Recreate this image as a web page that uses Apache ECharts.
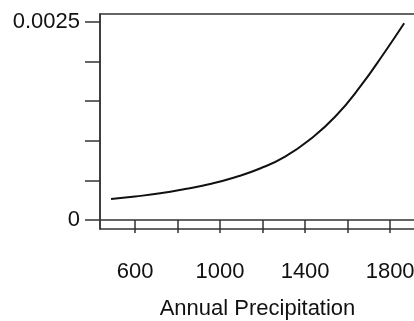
<!DOCTYPE html>
<html>
<head>
<meta charset="utf-8">
<script src="https://cdn.jsdelivr.net/npm/echarts@6/dist/echarts.min.js"></script>
<style>
  html, body { margin: 0; padding: 0; background: #fff; }
  #main { width: 414px; height: 321px; }
</style>
</head>
<body>
<div id="main"></div>
<script>
// values
var precip = [487, 600, 718, 835, 953, 1071, 1188, 1306, 1424, 1541, 1659, 1776, 1866];
var density = [0.000265, 0.000297, 0.000337, 0.000391, 0.000455, 0.000540, 0.000650,
               0.000800, 0.001020, 0.001304, 0.001683, 0.002125, 0.002484];
var xTicks = [600, 800, 1000, 1200, 1400, 1600, 1800];
var xTickLabels = [600, 1000, 1400, 1800];
var yTicks = [0, 0.0005, 0.001, 0.0015, 0.002, 0.0025];
var yTickLabels = [0, 0.0025];

var chartDom = document.getElementById('main');
var myChart = echarts.init(chartDom, null, { renderer: 'canvas' });
var font = 'Liberation Sans, Arial, Helvetica, sans-serif';
var axisCol = '#333';

var points = precip.map(function (p, i) { return [p, density[i]]; });

var option = {
    animation: false,
    grid: {
        left: 100, right: -1, top: 14, bottom: 92,
        outerBoundsMode: 'none',
        containLabel: false,
        show: true, borderColor: axisCol, borderWidth: 1.5, backgroundColor: 'transparent'
    },
    xAxis: {
        type: 'value',
        min: 435, max: 1917,
        name: 'Annual Precipitation',
        nameLocation: 'middle',
        nameGap: 69,
        nameTextStyle: { fontFamily: font, fontSize: 22, color: '#111' },
        axisLine: { show: true, lineStyle: { color: axisCol, width: 1.5 } },
        axisTick: { show: true, length: 13, customValues: xTicks, lineStyle: { color: axisCol, width: 1.5 } },
        axisLabel: {
            customValues: xTickLabels, margin: 32, fontFamily: font, fontSize: 22, color: '#111',
            formatter: function (v) { return String(v); }
        },
        splitLine: { show: false }
    },
    yAxis: {
        type: 'value',
        min: -0.0001136, max: 0.002601,
        axisLine: { show: true, lineStyle: { color: axisCol, width: 1.5 } },
        axisTick: { show: true, length: 15, customValues: yTicks, lineStyle: { color: axisCol, width: 1.5 } },
        axisLabel: {
            customValues: yTickLabels, margin: 20, fontFamily: font, fontSize: 22, color: '#111',
            formatter: function (v) { return v === 0 ? '0' : String(v); }
        },
        splitLine: { show: false }
    },
    series: [
        {
            type: 'line',
            data: points,
            smooth: true,
            showSymbol: false,
            lineStyle: { color: '#111', width: 2 }
        }
    ]
};

option && myChart.setOption(option);
</script>
</body>
</html>
